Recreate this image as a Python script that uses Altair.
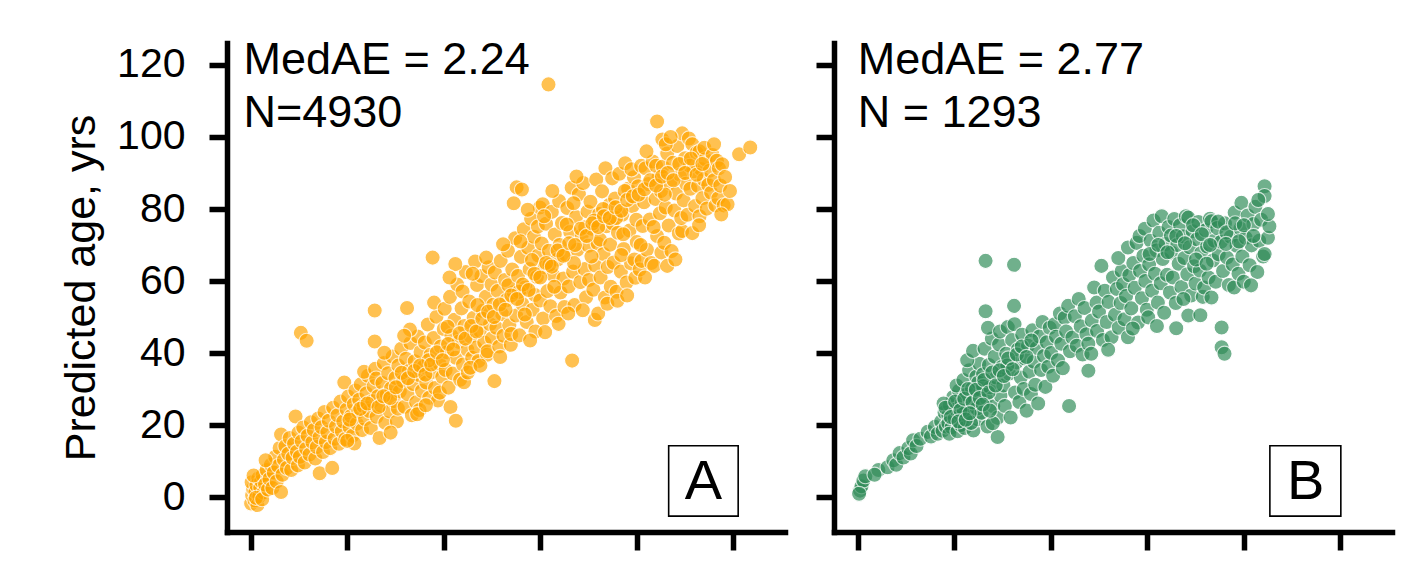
import altair as alt
import pandas as pd

orange_0_10 = [
    (0.1, -1.8), (0.3, 0.6), (0.5, 2.4), (0.2, 4.1), (0.8, -0.9), (1.0, 1.5), (1.2, 3.3), (1.4, -2.2),
    (1.6, 5.2), (1.8, 0.2), (2.0, 2.6), (2.2, 4.4), (2.5, 6.1), (2.7, 1.3), (0.6, 6.0), (3.0, 3.5),
    (1.1, -0.2), (2.4, -0.6), (3.3, 7.5), (3.6, 2.1), (3.9, 5.0), (4.2, 9.0), (4.5, 2.5), (4.8, 6.8),
    (5.1, 11.2), (5.4, 4.3), (5.7, 8.6), (6.0, 13.6), (6.3, 1.4), (3.1, 10.2), (6.3, 17.4), (6.6, 6.2),
    (6.9, 10.4), (7.2, 14.1), (7.5, 8.1), (7.8, 12.0), (8.1, 16.4), (8.4, 7.5), (8.7, 10.9), (9.0, 14.8),
    (9.3, 22.4), (9.6, 12.6), (9.9, 17.9), (9.8, 8.8),
]
orange_10_25 = [
    (10.2, 11.2), (10.4, 45.6), (11.6, 43.4), (10.6, 15.5), (10.9, 19.3), (11.2, 9.6), (11.5, 13.4),
    (11.8, 17.0), (12.2, 11.8), (12.5, 20.8), (12.8, 15.2), (13.1, 18.6), (13.4, 10.7), (13.7, 13.9),
    (14.0, 21.8), (14.3, 6.6), (14.3, 16.6), (14.7, 19.4), (15.0, 12.5), (15.3, 23.6), (15.6, 15.3),
    (15.9, 18.0), (16.2, 21.2), (16.5, 13.6), (16.9, 8.1), (17.1, 24.8), (17.4, 16.2), (17.7, 19.6),
    (18.0, 22.7), (18.3, 14.8), (18.6, 26.5), (18.9, 18.3), (19.2, 21.0), (19.4, 31.8), (19.6, 16.1),
    (19.9, 24.3), (20.2, 27.9), (20.5, 19.4), (20.8, 22.5), (21.1, 17.0), (21.4, 25.8), (21.7, 29.6),
    (22.0, 20.4), (22.3, 23.7), (21.5, 14.9), (22.5, 27.0), (20.0, 15.6), (22.8, 31.3), (23.1, 18.6),
    (23.4, 25.2), (23.7, 21.7), (24.0, 28.8), (24.3, 33.7), (24.6, 23.9), (24.9, 19.2), (23.5, 34.8),
]
orange_25_40 = [
    (25.2, 26.6), (25.5, 30.8), (25.7, 51.8), (25.7, 43.2), (25.8, 35.6), (26.1, 22.3), (26.4, 28.0),
    (26.7, 16.4), (26.0, 32.9), (27.0, 25.4), (27.3, 31.7), (27.6, 37.2), (27.9, 20.6), (28.2, 28.5),
    (28.5, 34.4), (28.8, 23.8), (29.1, 30.2), (29.4, 39.0), (29.7, 26.7), (30.0, 33.1), (30.3, 21.0),
    (30.6, 36.5), (30.9, 29.3), (31.2, 41.2), (29.0, 17.9), (27.7, 40.1), (30.5, 24.6), (32.4, 52.5),
    (31.6, 32.2), (31.9, 25.1), (32.2, 38.4), (32.5, 28.6), (32.8, 35.0), (33.1, 42.8), (33.4, 22.7),
    (33.7, 31.4), (34.0, 37.7), (34.3, 26.3), (34.6, 44.6), (34.9, 33.9), (35.2, 40.3), (35.5, 29.5),
    (33.0, 46.5), (35.0, 24.2), (31.8, 44.8), (34.5, 23.0), (35.8, 36.2), (36.1, 42.9), (36.4, 31.8),
    (36.7, 47.9), (37.0, 27.6), (37.3, 39.5), (37.7, 66.5), (37.6, 34.7), (37.9, 44.2), (38.2, 30.3),
    (38.5, 50.1), (38.8, 26.8), (39.1, 37.1), (39.4, 41.8), (39.7, 33.4), (36.3, 25.5), (38.0, 54.0),
    (39.2, 29.0), (36.9, 38.0),
]
orange_40_55 = [
    (40.0, 46.7), (40.2, 52.3), (40.4, 35.3), (40.7, 40.2), (41.0, 30.4), (41.4, 25.0), (41.3, 55.6),
    (41.6, 44.8), (41.9, 34.3), (42.2, 49.2), (42.5, 21.2), (42.5, 38.7), (42.8, 59.0), (43.1, 43.1),
    (43.4, 32.6), (43.7, 52.4), (44.0, 36.8), (44.3, 47.5), (44.6, 62.5), (44.9, 40.9), (42.4, 64.7),
    (43.9, 57.1), (44.2, 31.9), (41.2, 61.0), (45.0, 34.6), (40.8, 47.3), (45.3, 54.3), (45.6, 44.6),
    (45.9, 38.7), (46.2, 49.8), (46.5, 65.4), (46.6, 41.5), (46.9, 58.9), (47.2, 37.8), (47.5, 46.2),
    (47.8, 61.4), (48.1, 51.7), (48.4, 42.9), (48.7, 55.6), (49.0, 39.5), (49.3, 63.8), (49.6, 48.0),
    (49.9, 59.0), (46.0, 62.0), (47.0, 53.3), (48.8, 66.5), (50.0, 44.1), (45.5, 35.9), (49.1, 40.5),
    (47.6, 36.5), (50.3, 53.4), (50.5, 32.2), (50.6, 62.4), (50.9, 47.0), (51.2, 57.2), (51.5, 41.8),
    (51.8, 65.6), (52.1, 50.8), (52.4, 44.8), (52.7, 60.3), (53.0, 54.7), (53.3, 68.4), (53.6, 47.7),
    (53.9, 42.3), (54.2, 63.2), (54.5, 56.9), (54.5, 81.6), (55.1, 86.0), (54.8, 71.9), (55.0, 50.4),
    (51.7, 38.9), (53.4, 58.8), (52.3, 70.2), (54.0, 45.3),
]
orange_55_70 = [
    (55.4, 61.4), (55.7, 44.9), (56.0, 66.7), (56.2, 85.4), (56.3, 53.6), (56.6, 74.4), (56.9, 58.2),
    (57.2, 48.6), (57.5, 69.2), (57.8, 63.3), (58.1, 77.3), (58.4, 52.0), (58.7, 72.3), (59.0, 46.0),
    (59.3, 61.1), (59.6, 67.1), (59.9, 80.4), (55.9, 71.0), (57.4, 79.8), (58.9, 56.1), (56.8, 50.7),
    (59.5, 75.1), (55.6, 57.0), (57.9, 43.5), (60.0, 54.6), (58.3, 65.8), (60.3, 70.4), (60.5, 81.3),
    (60.6, 49.6), (60.9, 63.8), (61.2, 75.9), (61.5, 57.2), (61.7, 114.6), (61.8, 68.4), (62.1, 53.0),
    (62.4, 79.2), (62.7, 61.6), (63.0, 72.9), (63.3, 50.3), (63.6, 66.0), (63.9, 82.2), (64.2, 56.8),
    (64.5, 76.1), (64.8, 60.7), (61.0, 45.8), (62.5, 85.0), (63.8, 48.1), (64.0, 70.0), (61.9, 64.5),
    (60.8, 78.0), (62.9, 58.4), (65.0, 52.8), (65.3, 67.3), (65.6, 80.3), (65.9, 58.5), (66.2, 73.6),
    (66.5, 85.9), (66.6, 37.9), (66.8, 62.6), (67.1, 53.3), (67.4, 77.8), (67.7, 68.7), (68.0, 84.1),
    (68.3, 59.7), (68.6, 72.7), (68.9, 87.2), (69.2, 63.3), (69.5, 55.5), (69.8, 79.3), (70.0, 69.8),
    (65.8, 51.0), (67.5, 89.0), (68.8, 51.9), (66.9, 81.6), (69.3, 74.9), (65.5, 75.7), (70.1, 60.3),
    (67.0, 65.0),
]
orange_70_85 = [
    (70.4, 82.0), (70.7, 74.5), (71.0, 57.6), (71.3, 49.2), (71.4, 64.3), (71.6, 88.2), (71.9, 70.4),
    (72.0, 51.0), (72.2, 78.6), (72.5, 61.0), (72.8, 84.9), (73.1, 67.5), (73.4, 55.4), (73.5, 91.3),
    (73.7, 75.2), (74.0, 63.9), (74.3, 81.1), (74.6, 58.4), (74.9, 88.5), (70.6, 66.8), (72.4, 71.5),
    (73.9, 53.7), (74.5, 70.1), (71.2, 76.8), (73.0, 80.0), (75.0, 76.0), (75.2, 65.1), (75.5, 82.9),
    (75.8, 57.0), (76.1, 73.4), (76.4, 89.8), (76.7, 62.6), (77.0, 78.4), (77.3, 68.9), (77.6, 92.7),
    (77.9, 59.6), (78.2, 85.6), (78.5, 74.0), (78.8, 64.9), (79.1, 80.8), (79.4, 88.8), (79.7, 60.9),
    (80.0, 70.8), (76.0, 54.5), (77.5, 85.0), (78.9, 91.0), (75.7, 77.5), (79.9, 77.0), (76.8, 67.2),
    (78.0, 56.0), (79.5, 66.0), (77.2, 73.0), (80.3, 86.3), (80.6, 63.2), (80.9, 92.0), (81.0, 65.6),
    (81.2, 75.3), (81.5, 81.9), (81.8, 91.3), (82.1, 68.7), (82.4, 86.9), (82.7, 77.1), (83.0, 65.0),
    (83.3, 93.2), (83.6, 64.2), (83.9, 82.8), (84.2, 104.3), (84.2, 72.5), (84.5, 88.9), (84.8, 78.8),
    (85.3, 99.3), (85.1, 67.9), (80.8, 70.0), (82.0, 96.0), (83.5, 75.0), (84.0, 92.0), (81.7, 61.0),
    (85.0, 85.0),
]
orange_85_105 = [
    (85.4, 91.8), (85.7, 70.6), (86.0, 80.4), (86.3, 95.4), (86.3, 64.2), (86.6, 75.4), (86.9, 87.2),
    (87.2, 68.3), (87.5, 92.8), (87.8, 79.6), (88.1, 84.3), (88.4, 97.5), (88.7, 73.2), (89.0, 89.5),
    (89.4, 101.0), (89.4, 73.9), (89.7, 82.4), (90.0, 94.1), (86.0, 98.0), (88.0, 66.0), (89.2, 77.5),
    (87.0, 100.0), (85.8, 84.0), (90.2, 87.0), (90.5, 78.4), (90.8, 99.6), (91.1, 85.6), (91.5, 73.3),
    (91.5, 98.0), (91.8, 90.5), (92.1, 80.8), (92.4, 95.6), (92.7, 86.4), (93.0, 78.0), (93.0, 96.0),
    (93.3, 91.1), (93.6, 83.0), (93.9, 88.2), (94.2, 93.8), (94.5, 80.1), (94.8, 86.7), (91.0, 92.0),
    (92.9, 75.5), (94.0, 97.0), (95.1, 90.6), (95.4, 84.5), (95.7, 95.0), (96.0, 88.0), (96.3, 81.0),
    (96.6, 93.4), (96.9, 83.0), (97.0, 91.3), (97.3, 86.5), (97.7, 92.4), (98.0, 81.0), (98.3, 88.9),
    (98.8, 81.3), (99.3, 85.0), (97.5, 78.5), (96.0, 98.0), (101.2, 95.2), (103.5, 97.1),
]
orange_core = [
    (20.5, 21.5), (22.7, 24.5), (24.2, 26.0), (26.5, 25.0), (27.5, 28.0), (28.9, 27.5), (30.1, 30.5),
    (31.3, 34.5), (32.6, 33.0), (33.9, 35.0), (35.1, 36.5), (36.2, 34.0), (37.4, 36.8), (38.6, 40.2),
    (39.8, 38.0), (40.9, 42.5), (42.0, 41.0), (43.3, 45.5), (44.5, 44.0), (45.7, 47.5), (46.8, 46.0),
    (48.0, 49.5), (49.2, 51.5), (50.4, 50.0), (51.6, 53.5), (52.8, 52.0), (54.0, 56.0), (55.2, 55.0),
    (56.4, 59.0), (57.6, 57.5), (58.8, 62.0), (60.0, 61.0), (61.2, 65.0), (62.4, 64.0), (63.6, 68.5),
    (64.8, 67.0), (66.0, 70.5), (67.2, 70.0), (68.4, 74.5), (69.6, 72.5), (70.8, 76.0), (72.0, 75.0),
    (73.2, 78.0), (74.4, 77.5), (75.6, 80.5), (76.8, 79.5), (78.0, 82.5), (79.2, 83.5), (80.4, 84.0),
    (81.6, 85.5), (82.8, 88.0), (84.0, 86.5), (85.2, 89.0), (86.4, 90.0), (87.6, 88.0), (88.8, 92.5),
    (90.0, 90.0), (91.2, 94.0), (92.4, 89.5), (93.6, 92.5),
]

green_0_20 = [
    (0.5, 1.8), (0.8, 3.0), (1.2, 4.6), (0.3, 0.9), (1.6, 5.8), (4.3, 7.5), (3.5, 6.2), (6.2, 8.3),
    (7.4, 10.2), (8.0, 9.0), (8.7, 12.2), (9.5, 11.0), (10.5, 13.6), (11.0, 12.1), (11.5, 15.8),
    (12.2, 14.2), (13.0, 16.2), (14.5, 18.1), (15.2, 16.8), (16.0, 19.5), (16.6, 17.6), (17.3, 21.0),
    (17.6, 18.4), (18.0, 23.5), (18.3, 19.6), (18.8, 22.7), (18.8, 20.5), (19.1, 25.6), (19.5, 19.4),
    (19.8, 27.8), (19.0, 17.6), (17.8, 26.0),
]
green_20_40 = [
    (20.1, 21.8), (20.4, 24.3), (20.7, 18.3), (21.0, 29.5), (21.2, 23.0), (20.5, 31.0), (21.4, 20.0),
    (21.6, 26.1), (21.9, 32.5), (22.2, 19.2), (22.5, 28.4), (22.8, 22.6), (23.1, 35.2), (23.4, 25.0),
    (23.7, 30.1), (24.0, 18.5), (24.3, 27.3), (24.6, 33.4), (24.9, 21.6), (25.2, 37.0), (25.4, 29.0),
    (22.0, 24.0), (23.5, 20.6), (24.7, 24.6), (25.0, 31.8), (22.7, 38.0), (23.9, 40.6), (25.7, 23.4),
    (26.0, 34.1), (26.3, 41.2), (26.5, 65.6), (26.5, 51.6), (26.6, 27.5), (26.9, 19.6), (27.2, 36.7),
    (27.5, 30.5), (27.8, 44.0), (28.1, 25.2), (28.4, 39.0), (28.7, 33.2), (29.0, 16.7), (29.0, 22.0),
    (29.3, 42.4), (29.6, 28.2), (29.9, 36.1), (27.0, 47.0), (28.0, 20.5), (29.5, 46.0), (26.0, 30.8),
    (30.2, 31.0), (30.5, 25.3), (30.8, 39.8), (31.1, 47.2), (31.4, 34.3), (31.7, 22.1), (32.0, 43.6),
    (32.4, 64.5), (32.4, 53.1), (32.5, 48.0), (32.6, 29.0), (32.9, 37.4), (33.2, 41.0), (33.5, 26.4),
    (33.8, 33.2), (34.1, 45.1), (34.4, 30.0), (34.7, 38.5), (35.0, 24.0), (31.0, 36.5), (35.3, 42.0),
    (35.6, 34.8), (35.9, 28.6), (36.2, 46.3), (36.5, 37.6), (36.8, 31.2), (37.1, 41.4), (37.4, 26.0),
    (37.7, 44.6), (38.0, 35.3), (38.3, 48.6), (38.6, 39.2), (38.9, 30.6), (39.2, 43.0), (39.5, 36.2),
    (39.8, 47.0),
]
green_40_60 = [
    (40.1, 40.0), (40.5, 33.7), (40.8, 48.0), (41.1, 44.5), (41.5, 38.0), (41.9, 51.0), (42.2, 42.6),
    (42.5, 35.8), (42.9, 49.8), (43.2, 46.0), (43.6, 53.1), (43.8, 25.3), (44.0, 40.5), (44.5, 44.3),
    (45.0, 50.2), (45.4, 42.0), (45.8, 55.0), (46.2, 47.4), (46.6, 39.6), (47.0, 52.5), (47.4, 45.2),
    (47.8, 42.6), (47.8, 35.1), (48.4, 39.8), (48.5, 49.0), (49.0, 58.2), (49.5, 54.0), (49.6, 46.1),
    (50.0, 51.5), (50.5, 64.2), (50.8, 43.6), (51.2, 57.3), (51.6, 48.6), (52.0, 54.2), (52.6, 44.4),
    (52.9, 61.0), (53.3, 50.6), (53.7, 57.8), (54.1, 47.0), (54.5, 53.9), (54.7, 62.8), (55.0, 59.1),
    (51.9, 40.9), (54.0, 66.4), (55.3, 49.4), (55.6, 55.8), (56.0, 69.3), (56.0, 44.4), (56.3, 61.6),
    (56.7, 52.4), (57.1, 65.0), (57.4, 58.1), (57.8, 70.6), (58.1, 48.5), (58.4, 72.5), (58.5, 62.8),
    (58.9, 55.2), (59.2, 67.0), (59.6, 60.0), (59.9, 52.0), (57.0, 46.8), (59.5, 74.5),
]
green_60_86 = [
    (60.2, 49.9), (60.4, 64.6), (60.7, 71.2), (61.0, 57.3), (61.3, 76.8), (61.6, 62.0), (61.9, 68.5),
    (62.2, 54.0), (62.5, 73.4), (62.8, 59.4), (63.0, 78.0), (63.2, 66.1), (63.5, 51.2), (63.8, 70.3),
    (64.1, 61.7), (64.4, 75.0), (64.7, 56.8), (65.0, 67.9), (62.0, 47.5), (64.9, 72.6), (65.3, 61.0),
    (65.6, 77.2), (65.9, 53.9), (66.2, 70.0), (66.5, 64.8), (66.8, 75.5), (67.1, 58.3), (67.4, 72.4),
    (67.7, 66.4), (68.0, 78.0), (68.3, 61.9), (68.5, 77.6), (68.5, 50.4), (68.8, 69.4), (69.1, 56.0),
    (69.4, 73.8), (69.7, 64.1), (70.0, 59.3), (66.0, 46.9), (67.5, 55.0), (70.3, 71.6), (70.6, 76.4),
    (70.9, 62.9), (71.2, 67.8), (71.5, 55.6), (71.8, 58.2), (72.1, 74.1), (72.4, 69.6), (72.7, 61.0),
    (73.0, 77.3), (73.3, 55.4), (73.3, 76.6), (73.6, 65.7), (73.9, 71.2), (74.2, 59.8), (74.5, 74.7),
    (74.8, 67.4), (71.0, 50.5), (75.4, 47.1), (75.4, 41.6), (76.0, 39.8), (75.3, 70.9), (75.7, 62.8),
    (76.1, 76.0), (76.5, 66.5), (76.9, 58.9), (77.3, 72.3), (77.7, 64.6), (78.0, 58.2), (78.1, 79.0),
    (78.5, 69.8), (78.9, 62.0), (79.3, 74.6), (79.5, 81.7), (79.7, 66.8), (80.0, 59.8), (80.4, 72.0),
    (80.8, 78.2), (81.2, 64.4), (81.6, 69.9), (82.0, 75.8), (82.4, 80.6), (82.8, 62.5), (83.2, 71.2),
    (83.6, 77.0), (84.0, 66.8), (84.3, 86.3), (84.3, 83.6), (84.3, 67.5), (85.0, 72.0), (85.3, 75.2),
    (85.0, 78.6), (83.0, 82.5), (81.5, 58.8),
]
green_core = [
    (18.2, 24.8), (19.3, 22.2), (20.2, 26.5), (21.3, 24.1), (22.1, 27.3), (22.9, 30.0), (23.8, 26.3),
    (24.5, 29.8), (25.3, 27.5), (26.2, 32.5), (27.1, 29.0), (27.9, 34.6), (28.6, 31.0), (29.4, 35.2),
    (30.3, 33.6), (31.2, 38.5), (32.1, 35.5), (33.0, 39.6), (34.0, 41.8), (35.0, 38.9), (36.0, 43.5),
    (20.9, 21.0), (22.4, 21.5), (23.2, 23.3), (25.9, 25.7), (27.4, 24.0), (60.5, 67.5), (62.3, 70.0),
    (64.2, 68.0), (66.0, 72.5), (67.8, 70.5), (69.5, 75.5), (71.3, 73.0), (73.0, 70.0), (74.7, 76.5),
    (76.4, 73.5), (78.2, 76.0), (80.0, 75.5), (82.0, 72.5), (70.1, 66.0), (72.3, 64.8), (76.3, 70.3),
    (79.0, 71.0),
]

# ---------------- text / axes ----------------
x_ticks = [0, 20, 40, 60, 80, 100]
y_ticks = [0, 20, 40, 60, 80, 100, 120]
x_domain = [-4.9, 110.7]
y_domain = [-9.7, 126.1]

panel_colors = ["#FFA500", "#2E8B57"]
medae_text = ["MedAE = 2.24", "MedAE = 2.77"]
n_text = ["N=4930", "N = 1293"]
text_x = [-1.5, 0.0]
line1_y = [117.4, 117.4]
line2_y = [102.9, 102.9]
letters = ["A", "B"]
letter_x = [93.8, 92.8]
letter_y = [-0.6, -0.6]
box_x1 = [86.6, 85.4]
box_x2 = [101.0, 100.1]
box_y1 = [-5.3, -5.3]
box_y2 = [14.25, 14.25]

FONT = "Liberation Sans"
PANEL_W, PANEL_H = 558, 489


def x_enc():
    return alt.X(
        "age:Q",
        scale=alt.Scale(domain=x_domain, nice=False, zero=False),
        axis=alt.Axis(values=x_ticks, labels=False, title=None, grid=False,
                      domainColor="black", domainWidth=5.5, domainCap="square",
                      tickColor="black", tickWidth=5.5, tickSize=18),
    )


def y_enc(show_labels):
    kw = dict(values=y_ticks, labels=show_labels, grid=False,
              domainColor="black", domainWidth=5.5, domainCap="square",
              tickColor="black", tickWidth=5.5, tickSize=18)
    if show_labels:
        kw.update(title="Predicted age, yrs", titleFont=FONT, titleFontSize=43,
                  titleFontWeight="normal", titleColor="black", titlePadding=13,
                  labelFont=FONT, labelFontSize=41, labelColor="black", labelPadding=24)
    else:
        kw.update(title=None)
    return alt.Y("pred:Q", scale=alt.Scale(domain=y_domain, nice=False, zero=False),
                 axis=alt.Axis(**kw))


def panel(i, point_groups, show_labels):
    pts = [p for g in point_groups for p in g]
    df = pd.DataFrame(pts, columns=["age", "pred"])
    points = alt.Chart(df).mark_circle(
        size=230, color=panel_colors[i], opacity=0.68, stroke="white", strokeWidth=1.1
    ).encode(x=x_enc(), y=y_enc(show_labels))

    ann = pd.DataFrame({
        "age": [text_x[i], text_x[i]],
        "pred": [line1_y[i], line2_y[i]],
        "label": [medae_text[i], n_text[i]],
    })
    ann_layer = alt.Chart(ann).mark_text(
        align="left", baseline="alphabetic", font=FONT, fontSize=45, color="black"
    ).encode(x=x_enc(), y=y_enc(show_labels), text="label:N")

    box = pd.DataFrame({"age": [box_x1[i]], "age2": [box_x2[i]],
                        "pred": [box_y1[i]], "pred2": [box_y2[i]]})
    box_layer = alt.Chart(box).mark_rect(
        filled=False, stroke="black", strokeWidth=1.6
    ).encode(x=x_enc(), x2="age2:Q", y=y_enc(show_labels), y2="pred2:Q")

    let = pd.DataFrame({"age": [letter_x[i]], "pred": [letter_y[i]], "label": [letters[i]]})
    let_layer = alt.Chart(let).mark_text(
        align="center", baseline="alphabetic", font=FONT, fontSize=56, color="black"
    ).encode(x=x_enc(), y=y_enc(show_labels), text="label:N")

    return alt.layer(points, ann_layer, box_layer, let_layer).properties(
        width=PANEL_W, height=PANEL_H
    )


left = panel(0, [orange_0_10, orange_10_25, orange_25_40, orange_40_55,
                 orange_55_70, orange_70_85, orange_85_105, orange_core], True)
right = panel(1, [green_0_20, green_20_40, green_40_60, green_60_86, green_core], False)

chart = alt.hconcat(left, right, spacing=49, bounds="flush").properties(
    padding={"left": 52, "top": 30, "right": 5, "bottom": 5}
).configure_view(stroke=None)

chart.save("out.html", embed_options={"renderer": "svg", "actions": False})
